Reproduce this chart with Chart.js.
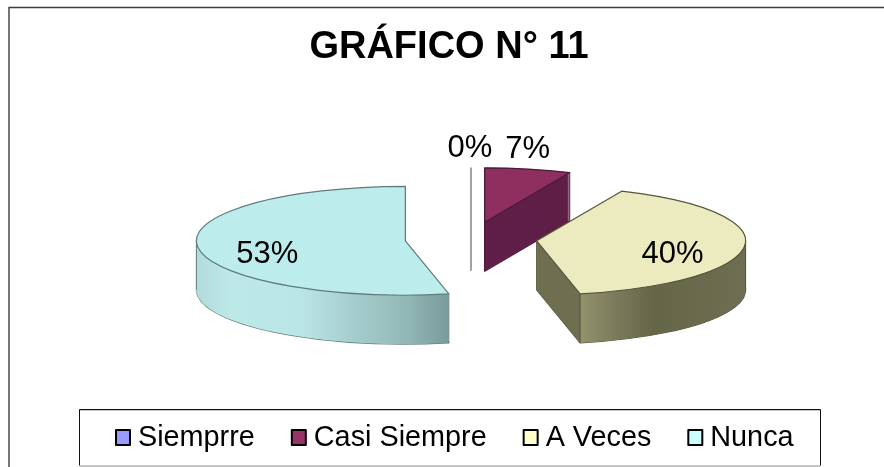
<!DOCTYPE html>
<html><head><meta charset="utf-8">
<style>html,body{margin:0;padding:0;background:#fff}canvas{display:block}</style>
<script src="https://cdn.jsdelivr.net/npm/chart.js@4"></script>
</head><body><canvas id="c" width="884" height="467"></canvas>
<script>
const titleText = 'GRÁFICO N° 11';
const categories = ['Siemprre', 'Casi Siempre', 'A Veces', 'Nunca'];
const values = [0, 2, 12, 16];
const percentLabels = ['0%', '7%', '40%', '53%'];
const legendColors = ['#9999ff', '#993366', '#ffffcc', '#ccffff'];
const topColors = ['#8a8a8a', '#8f2f60', '#ebebbf', '#bcecec'];
const edgeColors = ['#8a8a8a', '#4a1a38', '#55553c', '#5f7b7b'];
const wallStops = [
  [[0, '#8a8a8a'], [1, '#8a8a8a']],
  [[0, '#621f4a'], [1, '#5c1e45']],
  [[0, '#6e6e50'], [0.604, '#6e6e50'], [0.605, '#92926c'], [0.7, '#78785a'], [0.78, '#656548'], [1, '#6e6e52']],
  [[0, '#b2dcdc'], [0.08, '#bde8e8'], [0.25, '#bae6e6'], [0.36, '#a8d0d0'], [0.5, '#94b8b8'], [0.604, '#789c9c'], [1, '#789c9c']]
];
const labelShift = [[-1, -73], [43, -73], [136, 14], [-138, 14]];

const pieX = 471, pieY = 239, pieRadius = 209, squash = 0.26, explode = 66, depth = 49;
const labelFont = '31px "Liberation Sans", Arial, sans-serif';
const legendFont = '28.8px "Liberation Sans", Arial, sans-serif';

function apex(arc) {
  const mid = (arc.startAngle + arc.endAngle) / 2;
  return { x: pieX + Math.cos(mid) * explode, y: pieY + Math.sin(mid) * explode * squash };
}
function place(ctx, arc, drop) {
  const a = apex(arc);
  ctx.translate(a.x, a.y + drop);
  ctx.scale(1, squash);
  ctx.translate(-arc.x, -arc.y);
}
function paint(ctx, arc, fill, drop) {
  const saved = arc.options;
  arc.options = { backgroundColor: fill, borderColor: 'transparent', borderWidth: 0, borderAlign: 'center',
    offset: 0, spacing: 0, circular: true, borderRadius: 0, borderDash: [], borderDashOffset: 0 };
  ctx.save(); place(ctx, arc, drop); arc.draw(ctx); ctx.restore();
  arc.options = saved;
}
function outline(ctx, arc, color, drop) {
  ctx.save(); place(ctx, arc, drop);
  ctx.beginPath();
  ctx.moveTo(arc.x, arc.y);
  ctx.arc(arc.x, arc.y, arc.outerRadius, arc.startAngle, arc.endAngle);
  ctx.closePath();
  ctx.restore();
  ctx.strokeStyle = color; ctx.lineWidth = 1.2; ctx.lineJoin = 'round'; ctx.stroke();
}
function post(ctx, x, y, color) {
  ctx.beginPath(); ctx.moveTo(x, y); ctx.lineTo(x, y + depth);
  ctx.strokeStyle = color; ctx.lineWidth = 1; ctx.stroke();
}
function rim(arc, a, angle) {
  return { x: a.x + Math.cos(angle) * arc.outerRadius, y: a.y + Math.sin(angle) * arc.outerRadius * squash };
}

const pie3d = {
  id: 'pie3d',
  beforeDraw(chart) {
    const ctx = chart.ctx;
    ctx.save();
    ctx.fillStyle = '#fff'; ctx.fillRect(0, 0, chart.width, chart.height);
    ctx.strokeStyle = '#3c3c3c'; ctx.lineWidth = 1.4;
    ctx.beginPath(); ctx.moveTo(9, chart.height); ctx.lineTo(9, 7.5); ctx.lineTo(chart.width, 7.5); ctx.stroke();
    ctx.restore();
  },
  beforeDatasetDraw(chart, args) {
    const ctx = chart.ctx;
    const arcs = chart.getDatasetMeta(args.index).data;
    const order = arcs.map((a, i) => i).sort((p, q) => apex(arcs[p]).y - apex(arcs[q]).y);
    order.forEach(i => {
      const arc = arcs[i], a = apex(arc);
      if (arc.circumference === 0) {
        const top = rim(arc, a, arc.startAngle);
        ctx.beginPath(); ctx.moveTo(top.x, top.y); ctx.lineTo(a.x, a.y + depth);
        ctx.strokeStyle = topColors[i]; ctx.lineWidth = 1.6; ctx.stroke();
        return;
      }
      const g = ctx.createLinearGradient(arc.x - arc.outerRadius, 0, arc.x + arc.outerRadius, 0);
      wallStops[i].forEach(s => g.addColorStop(s[0], s[1]));
      outline(ctx, arc, edgeColors[i], depth);
      for (let d = depth; d >= 1; d--) paint(ctx, arc, g, d);
      const corners = [a, rim(arc, a, arc.startAngle), rim(arc, a, arc.endAngle)];
      [0, Math.PI].forEach(t => {
        [t, t + 2 * Math.PI].forEach(x => {
          if (x > arc.startAngle && x < arc.endAngle) corners.push(rim(arc, a, x));
        });
      });
      corners.forEach(p => post(ctx, p.x, p.y, edgeColors[i]));
      paint(ctx, arc, topColors[i], 0);
      outline(ctx, arc, edgeColors[i], 0);
    });
    return false;
  },
  afterDatasetsDraw(chart) {
    const ctx = chart.ctx;
    const arcs = chart.getDatasetMeta(0).data;
    ctx.save();
    ctx.font = labelFont; ctx.fillStyle = '#000'; ctx.textAlign = 'center'; ctx.textBaseline = 'middle';
    arcs.forEach((arc, i) => {
      const a = apex(arc);
      ctx.fillText(percentLabels[i], a.x + labelShift[i][0], a.y + labelShift[i][1]);
    });
    ctx.restore();
  },
  afterDraw(chart) {
    const ctx = chart.ctx;
    ctx.save();
    ctx.strokeStyle = '#8a8a8a'; ctx.lineWidth = 1;
    ctx.strokeRect(79.5, 410, 741, 56);
    ctx.strokeStyle = '#111';
    ctx.beginPath(); ctx.moveTo(79.5, 465); ctx.lineTo(79.5, 409.5); ctx.lineTo(820.5, 409.5); ctx.lineTo(820.5, 465); ctx.stroke();
    ctx.font = legendFont; ctx.textBaseline = 'middle'; ctx.textAlign = 'left';
    let x = 115;
    categories.forEach((name, i) => {
      ctx.fillStyle = legendColors[i]; ctx.strokeStyle = '#000'; ctx.lineWidth = 2;
      ctx.fillRect(x + 1, 430, 14, 15); ctx.strokeRect(x + 1, 430, 14, 15);
      ctx.fillStyle = '#000';
      ctx.fillText(name, x + 23, 438);
      x += 23 + ctx.measureText(name).width + 36;
    });
    ctx.restore();
  }
};

new Chart(document.getElementById('c'), {
  type: 'pie',
  data: { labels: categories, datasets: [{ data: values, backgroundColor: legendColors }] },
  plugins: [pie3d],
  options: {
    responsive: false, animation: false, events: [],
    radius: pieRadius,
    layout: { padding: { left: 14 } },
    plugins: {
      legend: { display: false }, tooltip: { enabled: false },
      title: { display: true, text: titleText, color: '#000',
        font: { family: '"Liberation Sans", Arial, sans-serif', size: 38, weight: 'bold' },
        padding: { top: 25, bottom: 10 } }
    }
  }
});
</script></body></html>
